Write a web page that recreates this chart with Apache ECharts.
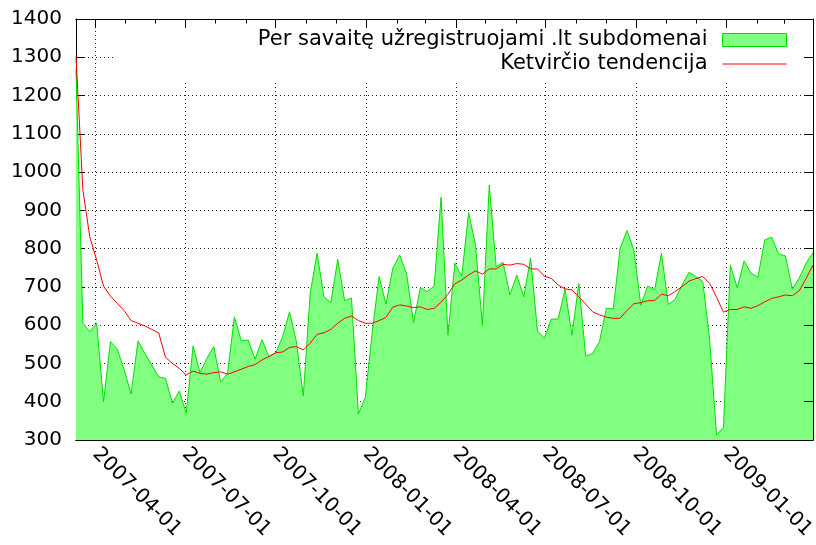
<!DOCTYPE html>
<html lang="lt">
  <head>
    <meta charset="UTF-8" />
    <meta name="viewport" content="width=device-width, initial-scale=1.0" />
    <title>.lt subdomenai</title>
    <style>
      html, body { margin: 0; padding: 0; background: #fff; }
    </style>
  </head>
  <body>
    <div id="main" style="width: 816px; height: 545px"></div>

    <script src="https://cdn.jsdelivr.net/npm/echarts@6/dist/echarts.min.js"></script>
    <script>
      // savaitiniai duomenys, pirmoji savaitė
      var firstWeek = "2007-03-12";

      var weekly = [
        1270, 605, 583, 605, 400, 557, 537, 483, 420, 559,
        526, 496, 465, 461, 396, 428, 370, 546, 476, 513,
        544, 452, 474, 622, 559, 561, 511, 562, 518, 528,
        570, 635, 557, 415, 683, 788, 674, 659, 772, 664,
        671, 368, 411, 580, 727, 655, 749, 783, 734, 607,
        698, 688, 702, 934, 574, 762, 728, 894, 810, 600,
        966, 753, 764, 679, 731, 674, 775, 585, 566, 616,
        616, 694, 574, 709, 519, 526, 557, 644, 642, 801,
        847, 796, 652, 702, 692, 788, 654, 668, 705, 738,
        727, 714, 561, 313, 333, 757, 698, 768, 736, 725,
        823, 830, 786, 781, 694, 723, 762, 789
      ];

      var trend = [
        1302, 953, 831, 770, 702, 676, 657, 638, 612, 605,
        598, 589, 580, 516, 500, 487, 470, 480, 474, 472,
        476, 478, 472, 478, 485, 492, 497, 509, 518, 528,
        530, 542, 544, 535, 553, 576, 580, 589, 605, 618,
        624, 612, 605, 605, 612, 620, 647, 653, 650, 646,
        648, 641, 644, 660, 681, 708, 718, 731, 742, 733,
        747, 747, 759, 757, 761, 759, 747, 747, 728, 722,
        705, 695, 692, 674, 655, 635, 627, 621, 618, 618,
        639, 656, 659, 664, 664, 681, 677, 688, 701, 715,
        722, 727, 709, 673, 634, 641, 641, 648, 644, 651,
        661, 670, 674, 679, 677, 690, 722, 757
      ];

      var quarterTicks = [
        "2007-04-01", "2007-07-01", "2007-10-01", "2008-01-01",
        "2008-04-01", "2008-07-01", "2008-10-01", "2009-01-01"
      ];

      var monthTicks = [
        "2007-04-01", "2007-05-01", "2007-06-01", "2007-07-01", "2007-08-01", "2007-09-01",
        "2007-10-01", "2007-11-01", "2007-12-01", "2008-01-01", "2008-02-01", "2008-03-01",
        "2008-04-01", "2008-05-01", "2008-06-01", "2008-07-01", "2008-08-01", "2008-09-01",
        "2008-10-01", "2008-11-01", "2008-12-01", "2009-01-01", "2009-02-01", "2009-03-01"
      ];

      var seriesNames = ["Per savaitę užregistruojami .lt subdomenai", "Ketvirčio tendencija"];

      function toTime(s, addDays) {
        var p = s.split("-");
        return new Date(+p[0], +p[1] - 1, +p[2] + (addDays || 0)).getTime();
      }

      var weekTimes = weekly.map(function (v, i) {
        return toTime(firstWeek, i * 7);
      });
      var weeklyData = weekly.map(function (v, i) {
        return [weekTimes[i], v];
      });
      var trendData = trend.map(function (v, i) {
        return [weekTimes[i], v];
      });
      var quarterValues = quarterTicks.map(function (s) { return toTime(s); });
      var monthValues = monthTicks.map(function (s) { return toTime(s); });

      var xMin = weekTimes[0];
      var xMax = weekTimes[weekTimes.length - 1];

      var font = "DejaVu Sans";
      var black = "#000";

      var myChart = echarts.init(document.getElementById("main"), null, {
        renderer: "canvas",
      });

      // pagalbinė ašis tik žymoms (gnuplot stiliaus rėmas)
      function tickAxis(position, values, len, z) {
        return {
          type: "time",
          position: position,
          min: xMin,
          max: xMax,
          z: z,
          axisLine: { show: true, lineStyle: { color: black, width: 1 } },
          axisTick: {
            show: true,
            inside: true,
            length: len,
            customValues: values,
            lineStyle: { color: black, width: 1 },
          },
          axisLabel: { show: false },
          splitLine: { show: false },
        };
      }

      var option = {
        backgroundColor: "#fff",
        animation: false,
        textStyle: { fontFamily: font },
        grid: {
          left: 76,
          right: 3,
          top: 19,
          bottom: 105,
          outerBoundsMode: "none",
        },
        legend: {
          orient: "vertical",
          align: "right",
          right: 4,
          top: 20,
          padding: [8, 25, 4, 142],
          backgroundColor: "#fff",
          itemWidth: 64,
          itemHeight: 13,
          itemGap: 0,
          selectedMode: false,
          textStyle: {
            fontFamily: font,
            fontSize: 21,
            color: black,
            lineHeight: 24,
            padding: [0, 10, 0, 0],
          },
          data: [
            {
              name: seriesNames[0],
              icon: "rect",
              itemStyle: { color: "#80ff80", borderColor: "#00e000", borderWidth: 1 },
            },
            {
              name: seriesNames[1],
              itemStyle: { color: "rgba(0,0,0,0)", borderWidth: 0, opacity: 0 },
              lineStyle: { color: "#ff0000", width: 1 },
            },
          ],
        },
        xAxis: [
          {
            type: "time",
            position: "bottom",
            min: xMin,
            max: xMax,
            axisLine: { show: true, lineStyle: { color: black, width: 1 } },
            axisTick: {
              show: true,
              inside: true,
              length: 9,
              customValues: quarterValues,
              lineStyle: { color: black, width: 1 },
            },
            axisLabel: {
              customValues: quarterValues,
              rotate: -45,
              margin: 11,
              fontFamily: font,
              fontSize: 20,
              color: black,
              formatter: "{yyyy}-{MM}-{dd}",
            },
            splitLine: {
              show: true,
              lineStyle: { color: "#222", width: 1, type: [1, 3] },
            },
          },
          tickAxis("bottom", monthValues, 4.5, 0),
          tickAxis("top", quarterValues, 9, 6),
          tickAxis("top", monthValues, 4.5, 6),
        ],
        yAxis: [
          {
            type: "value",
            position: "left",
            min: 300,
            max: 1400,
            interval: 100,
            axisLine: { show: true, lineStyle: { color: black, width: 1 } },
            axisTick: { show: true, inside: true, length: 9, lineStyle: { color: black } },
            axisLabel: {
              margin: 14,
              fontFamily: font,
              fontSize: 20,
              color: black,
              formatter: function (v) {
                return String(v);
              },
            },
            splitLine: {
              show: true,
              lineStyle: { color: "#222", width: 1, type: [1, 3] },
            },
          },
          {
            type: "value",
            position: "right",
            min: 300,
            max: 1400,
            interval: 100,
            z: 6,
            axisLine: { show: true, lineStyle: { color: black, width: 1 } },
            axisTick: { show: true, inside: true, length: 9, lineStyle: { color: black } },
            axisLabel: { show: false },
            splitLine: { show: false },
          },
        ],
        series: [
          {
            name: seriesNames[0],
            type: "line",
            data: weeklyData,
            symbol: "none",
            z: 2,
            lineStyle: { color: "#00e000", width: 1 },
            itemStyle: { color: "#00e000" },
            areaStyle: { color: "#80ff80", opacity: 1, origin: "start" },
          },
          {
            name: seriesNames[1],
            type: "line",
            data: trendData,
            symbol: "none",
            z: 3,
            lineStyle: { color: "#ff0000", width: 1 },
            itemStyle: { color: "#ff0000" },
          },
        ],
      };
      myChart.setOption(option);
    </script>
  </body>
</html>
